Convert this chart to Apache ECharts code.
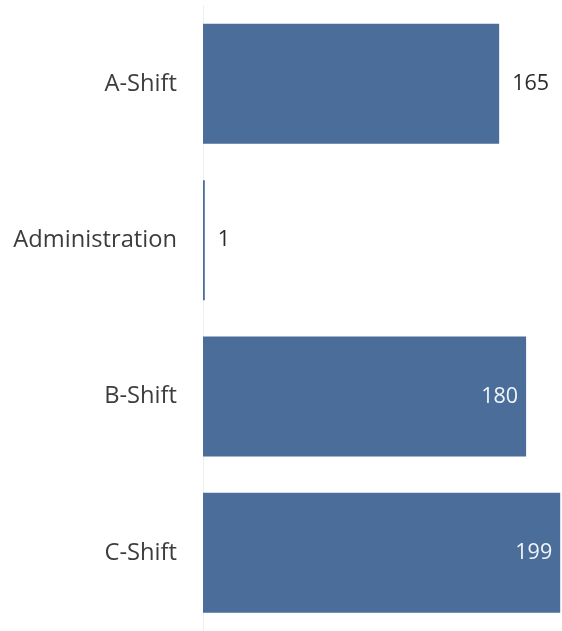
<!DOCTYPE html>
<html>
<head>
<meta charset="utf-8">
<script src="https://cdn.jsdelivr.net/npm/echarts@6/dist/echarts.min.js"></script>
<style>
html,body{margin:0;padding:0;background:#fff;}
#c{width:562px;height:631px;}
</style>
</head>
<body>
<div id="c"></div>
<script>
const categories = ['A-Shift', 'Administration', 'B-Shift', 'C-Shift'];
const values = [165, 1, 180, 199];
const insideLabel = [false, false, true, true];

const chart = echarts.init(document.getElementById('c'), null, {renderer: 'canvas'});
const data = values.map((v, i) => ({
  value: v,
  label: insideLabel[i]
    ? {position: 'insideRight', color: '#f2f5f9', distance: 8}
    : {position: 'right', color: '#2a2a2a', distance: 13}
}));
chart.setOption({
  animation: false,
  grid: {left: 203, top: 5.7, height: 626.7, width: 362},
  xAxis: {
    type: 'value', min: 0, max: 200, show: false
  },
  yAxis: {
    type: 'category', data: categories, inverse: true,
    axisLine: {show: true, lineStyle: {color: '#eeeeee', width: 1}},
    axisTick: {show: false},
    axisLabel: {color: '#3c3c3c', fontSize: 23.7, fontFamily: 'Open Sans', margin: 26}
  },
  series: [{
    type: 'bar',
    data: data,
    barWidth: 120,
    itemStyle: {color: '#4a6d9a'},
    label: {show: true, fontSize: 21.5, fontFamily: 'Open Sans'}
  }]
});
</script>
</body>
</html>
